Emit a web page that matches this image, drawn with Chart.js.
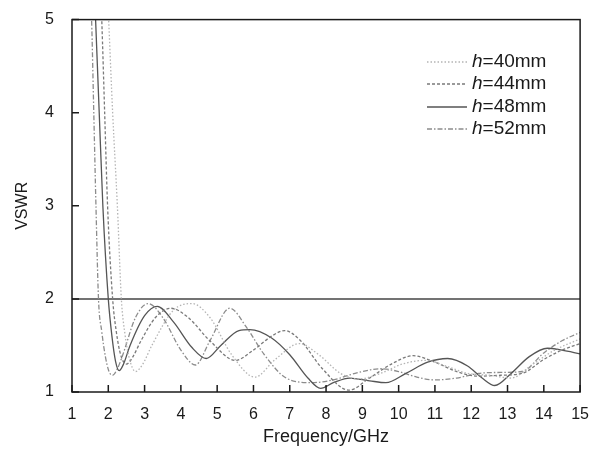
<!DOCTYPE html>
<html>
<head>
<meta charset="utf-8">
<script src="https://cdn.jsdelivr.net/npm/chart.js@4.4.0/dist/chart.umd.min.js"></script>
<style>
body { margin: 0; background: #fff; }
#wrap { width: 594px; height: 449px; }
</style>
</head>
<body>
<div id="wrap"><canvas id="vswr-chart"></canvas></div>
<script>
// tick labels
var xTicks = [1, 2, 3, 4, 5, 6, 7, 8, 9, 10, 11, 12, 13, 14, 15];
var yTicks = [1, 2, 3, 4, 5];

// h = 40mm
var h40Freq = [1.9, 2.01, 2.12, 2.25, 2.36, 2.46, 2.58, 2.75, 2.95, 3.2, 3.8, 4.3, 4.8, 5.4, 6.04, 6.6, 7.27, 7.8, 8.4, 8.9, 9.5, 10.1, 10.75, 11.3, 11.9, 12.5, 13.1, 13.7, 14.3, 15];
var h40Vswr = [6.0, 5.0, 4.0, 3.0, 2.0, 1.62, 1.36, 1.22, 1.3, 1.5, 1.88, 1.95, 1.8, 1.4, 1.16, 1.35, 1.52, 1.4, 1.2, 1.14, 1.2, 1.3, 1.34, 1.28, 1.2, 1.18, 1.15, 1.3, 1.45, 1.57];

// h = 44mm
var h44Freq = [1.72, 1.82, 1.9, 1.98, 2.12, 2.22, 2.34, 2.5, 2.68, 2.9, 3.3, 3.72, 4.2, 4.8, 5.5, 6.0, 6.5, 6.86, 7.3, 7.9, 8.63, 9.2, 9.8, 10.4, 11.0, 11.6, 12.2, 12.8, 13.4, 14.0, 14.5, 15];
var h44Vswr = [6.0, 5.0, 4.0, 3.0, 2.0, 1.65, 1.4, 1.3, 1.38, 1.55, 1.8, 1.9, 1.8, 1.55, 1.34, 1.45, 1.6, 1.66, 1.55, 1.25, 1.02, 1.15, 1.3, 1.39, 1.32, 1.22, 1.17, 1.18, 1.2, 1.35, 1.45, 1.52];

// h = 48mm
var h48Freq = [1.55, 1.65, 1.75, 1.85, 2.0, 2.1, 2.2, 2.3, 2.42, 2.6, 3.0, 3.35, 3.8, 4.3, 4.7, 5.1, 5.6, 5.9, 6.5, 7.0, 7.5, 7.85, 8.2, 8.65, 9.2, 9.65, 10.2, 10.8, 11.35, 11.9, 12.3, 12.65, 13.1, 13.6, 14.1, 14.5, 15];
var h48Vswr = [6.0, 5.0, 4.0, 3.0, 2.0, 1.6, 1.33, 1.23, 1.3, 1.5, 1.82, 1.92, 1.75, 1.48, 1.36, 1.5, 1.66, 1.67, 1.58, 1.4, 1.15, 1.04, 1.1, 1.15, 1.12, 1.1, 1.2, 1.32, 1.36, 1.28, 1.15, 1.07, 1.2, 1.38, 1.47, 1.45, 1.41];

// h = 52mm
var h52Freq = [1.44, 1.54, 1.6, 1.66, 1.73, 1.82, 1.92, 2.02, 2.12, 2.25, 2.4, 2.75, 3.1, 3.5, 4.0, 4.4, 4.8, 5.35, 5.8, 6.3, 6.9, 7.6, 8.2, 8.8, 9.5, 10.0, 10.5, 11.0, 11.6, 12.2, 12.8, 13.4, 14.0, 14.5, 15];
var h52Vswr = [6.0, 5.0, 4.0, 3.0, 2.0, 1.65, 1.38, 1.22, 1.18, 1.25, 1.4, 1.8, 1.95, 1.8, 1.45, 1.29, 1.55, 1.9, 1.7, 1.4, 1.15, 1.1, 1.13, 1.2, 1.25, 1.22, 1.16, 1.13, 1.15, 1.2, 1.21, 1.22, 1.42, 1.55, 1.64];

// VSWR = 2 reference
var refFreq = [1, 15];
var refVswr = [2, 2];

var legendLabels = ['40mm', '44mm', '48mm', '52mm'];

function pts(f, v) {
    return f.map(function (x, i) { return {x: x, y: v[i]}; });
}

var seriesStyle = [
    {color: '#b4b4b4', dash: [1.5, 2]},
    {color: '#7a7a7a', dash: [3, 2]},
    {color: '#555555', dash: []},
    {color: '#8c8c8c', dash: [5, 2, 1.5, 2]}
];

var datasets = [
    [h40Freq, h40Vswr], [h44Freq, h44Vswr], [h48Freq, h48Vswr], [h52Freq, h52Vswr]
].map(function (s, i) {
    return {
        data: pts(s[0], s[1]),
        borderColor: seriesStyle[i].color,
        borderDash: seriesStyle[i].dash,
        borderWidth: 1.3,
        pointRadius: 0,
        fill: false,
        cubicInterpolationMode: 'monotone'
    };
});
datasets.push({
    data: pts(refFreq, refVswr),
    borderColor: '#444',
    borderWidth: 1.5,
    pointRadius: 0,
    fill: false
});

var FONT = '"Liberation Sans", Arial, sans-serif';

var framePlugin = {
    id: 'frame',
    afterDatasetsDraw: function (chart) {
        var ctx = chart.ctx, a = chart.chartArea;
        var xs = chart.scales.x, ys = chart.scales.y;
        ctx.save();
        ctx.strokeStyle = '#1a1a1a';
        ctx.lineWidth = 1.5;
        ctx.strokeRect(a.left, a.top, a.right - a.left, a.bottom - a.top);
        ctx.beginPath();
        xTicks.forEach(function (v) {
            var px = xs.getPixelForValue(v);
            ctx.moveTo(px, a.bottom);
            ctx.lineTo(px, a.bottom - 7);
        });
        yTicks.forEach(function (v) {
            var py = ys.getPixelForValue(v);
            ctx.moveTo(a.left, py);
            ctx.lineTo(a.left + 7, py);
        });
        ctx.stroke();

        // legend, italic h
        var rows = [62, 84, 107, 129];
        ctx.textBaseline = 'middle';
        ctx.fillStyle = '#1a1a1a';
        legendLabels.forEach(function (lab, i) {
            var y = rows[i];
            ctx.beginPath();
            ctx.strokeStyle = seriesStyle[i].color;
            ctx.lineWidth = 1.3;
            ctx.setLineDash(seriesStyle[i].dash);
            ctx.moveTo(427, y);
            ctx.lineTo(467, y);
            ctx.stroke();
            ctx.setLineDash([]);
            ctx.font = 'italic 19px ' + FONT;
            ctx.fillText('h', 472, y);
            var w = ctx.measureText('h').width;
            ctx.font = '19px ' + FONT;
            ctx.fillText('=' + lab, 472 + w, y);
        });
        ctx.restore();
    }
};

window.onload = function () {
    var ctx = document.getElementById('vswr-chart');
    var myChart = new Chart(ctx, {
        type: 'line',
        data: {datasets: datasets},
        options: {
            responsive: true,
            maintainAspectRatio: false,
            animation: false,
            layout: {padding: {top: 14, right: 8, left: 0, bottom: 0}},
            plugins: {legend: {display: false}, tooltip: {enabled: false}},
            scales: {
                x: {
                    type: 'linear', min: 1, max: 15,
                    grid: {display: false},
                    border: {display: false},
                    afterBuildTicks: function (s) { s.ticks = xTicks.map(function (v) { return {value: v}; }); },
                    afterFit: function (s) { s.height = 57; },
                    ticks: {color: '#1a1a1a', font: {family: FONT, size: 16}, padding: 5, maxRotation: 0},
                    title: {display: true, text: 'Frequency/GHz', color: '#1a1a1a', font: {family: FONT, size: 18}, padding: {top: 0, bottom: 1}}
                },
                y: {
                    min: 1, max: 5,
                    grid: {display: false},
                    border: {display: false},
                    afterBuildTicks: function (s) { s.ticks = yTicks.map(function (v) { return {value: v}; }); },
                    afterFit: function (s) { s.width = 72; },
                    ticks: {color: '#1a1a1a', font: {family: FONT, size: 16}, padding: 10},
                    title: {display: true, text: 'VSWR', color: '#1a1a1a', font: {family: FONT, size: 16}, padding: {top: 13, bottom: 0}}
                }
            }
        },
        plugins: [framePlugin]
    });
};
</script>
</body>
</html>
